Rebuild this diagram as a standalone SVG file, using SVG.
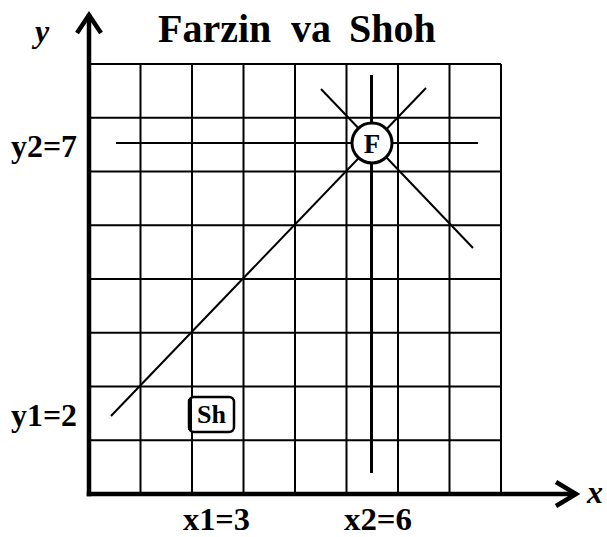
<svg xmlns="http://www.w3.org/2000/svg" width="607" height="537" viewBox="0 0 607 537">
<style>
.g{stroke:#000;stroke-width:2;fill:none}
.ax{stroke:#000;stroke-width:4.5;fill:none;stroke-linecap:square}
.ah{stroke:#000;stroke-width:4.5;fill:none;stroke-linejoin:miter}
.ray{stroke:#000;stroke-width:2;fill:none}
.t{font-family:"Liberation Serif","Times New Roman",serif;font-weight:bold;fill:#000}
.ti{font-family:"Liberation Serif","Times New Roman",serif;font-weight:bold;font-style:italic;fill:#000}
</style>
<rect width="607" height="537" fill="#fff"/>
<g id="grid" class="g">
<path d="M140.5 64V494M192 64V494M243.5 64V494M295 64V494M346.5 64V494M398 64V494M449.5 64V494M501 64V494"/>
<path d="M89 64H501M89 117.75H501M89 171.5H501M89 225.25H501M89 279H501M89 332.75H501M89 386.5H501M89 440.25H501"/>
</g>
<g id="connectors">
<line class="ray" x1="116" y1="143" x2="478" y2="143"/>
<line class="ray" x1="371.5" y1="75" x2="371.5" y2="473" style="stroke-width:3"/>
<line class="ray" x1="111" y1="416" x2="426" y2="88"/>
<line class="ray" x1="321" y1="89" x2="473" y2="248"/>
</g>
<g id="axes">
<line class="ax" x1="89" y1="494" x2="89" y2="16"/>
<line class="ax" x1="89" y1="494" x2="574" y2="494"/>
<polyline class="ah" points="77,33 89,15 101,33"/>
<polyline class="ah" points="556,482 576,494 556,506"/>
<text class="ti" x="35" y="42" font-size="32">y</text>
<text class="ti" x="587" y="503" font-size="32">x</text>
</g>
<g id="title">
<text class="t" y="42" font-size="40"><tspan x="158">Farzin</tspan><tspan x="291">va</tspan><tspan x="349">Shoh</tspan></text>
</g>
<g id="F">
<circle cx="372" cy="143" r="20" fill="#fff" stroke="#000" stroke-width="3"/>
<text class="t" x="372" y="153" font-size="27" text-anchor="middle">F</text>
</g>
<g id="Sh">
<rect x="189" y="397" width="45" height="35" rx="5" fill="#fff" stroke="#000" stroke-width="2.5"/>
<line x1="190" y1="399" x2="190" y2="430" stroke="#000" stroke-width="4"/>
<text class="t" x="211.5" y="423" font-size="25" text-anchor="middle" textLength="29" lengthAdjust="spacingAndGlyphs">Sh</text>
</g>
<g id="labels">
<text class="t" x="11" y="157" font-size="31" textLength="66" lengthAdjust="spacingAndGlyphs">y2=7</text>
<text class="t" x="11" y="426" font-size="31" textLength="66" lengthAdjust="spacingAndGlyphs">y1=2</text>
<text class="t" x="183" y="530" font-size="31" textLength="67" lengthAdjust="spacingAndGlyphs">x1=3</text>
<text class="t" x="344" y="530" font-size="31" textLength="68" lengthAdjust="spacingAndGlyphs">x2=6</text>
</g>
</svg>
